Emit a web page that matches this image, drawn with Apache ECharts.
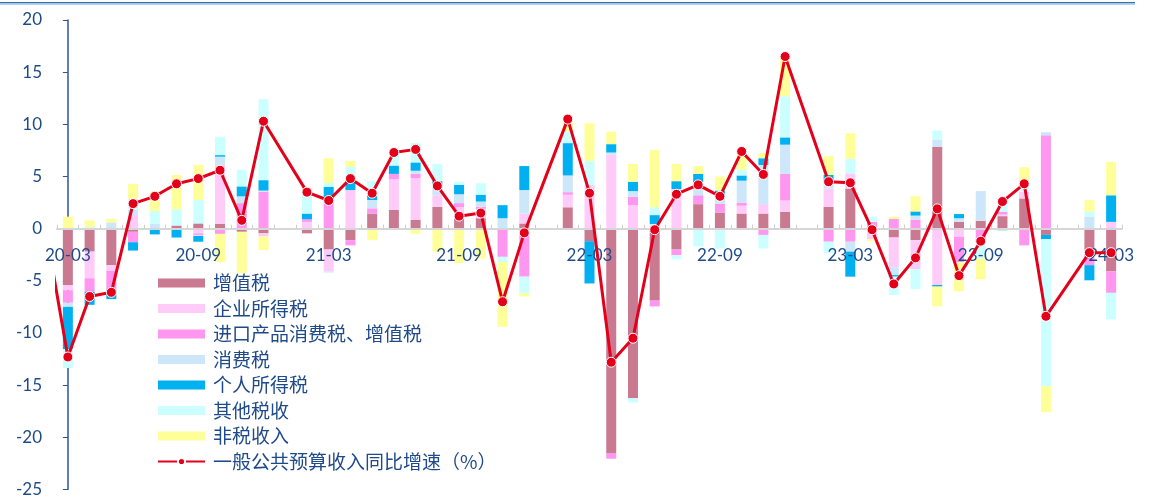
<!DOCTYPE html>
<html>
<head>
<meta charset="utf-8">
<script src="https://cdn.jsdelivr.net/npm/echarts@6/dist/echarts.min.js"></script>
<style>
  html, body { margin: 0; padding: 0; background: #ffffff; }
  #chart { width: 1150px; height: 497px; }
</style>
</head>
<body>
<div id="chart"></div>
<script>
// Monthly periods; '20-02' only feeds the first line segment (outside the plot)
const months = [
  '20-02',
  '20-03','20-04','20-05','20-06','20-07','20-08','20-09','20-10','20-11','20-12',
  '21-01','21-02','21-03','21-04','21-05','21-06','21-07','21-08','21-09','21-10','21-11','21-12',
  '22-01','22-02','22-03','22-04','22-05','22-06','22-07','22-08','22-09','22-10','22-11','22-12',
  '23-01','23-02','23-03','23-04','23-05','23-06','23-07','23-08','23-09','23-10','23-11','23-12',
  '24-01','24-02','24-03'
];

// Contributions to revenue growth, percentage points (January is reported with February)
const vat = [null,
  -5.4,-2.2,-3.5,-0.3,0,0.3,0.5,0.45,-0.3,-0.45,
  null,-0.45,-2.0,-1.1,1.45,1.8,0.85,2.1,1.0,1.0,0,0.5,
  null,2.05,-1.2,-21.5,-16.25,-6.9,-2.0,2.35,1.55,1.45,1.45,1.6,
  null,2.1,3.85,0,-0.85,-1.1,7.85,0.65,0.75,1.2,2.9,-0.6,
  null,-2.0,-4.1];
const corpIncome = [null,
  -0.5,-2.55,-0.55,1.3,0,0,-0.45,5.65,0,-0.3,
  null,0.65,-2.1,3.7,0,2.95,4.0,1.1,1.05,0.9,0,0.95,
  null,1.2,4.2,7.1,2.25,0,3.4,0,0,0.75,0.9,1.1,
  null,1.75,1.45,-1.0,-2.85,-2.8,-5.4,-0.8,0,0.15,0.65,0,
  null,0,0.65];
const importTax = [null,
  -1.2,-1.3,-1.8,-1.0,0,0,-0.15,-0.5,2.45,3.55,
  null,0.25,3.05,-0.5,0.5,0.5,0.4,0,0.4,0.2,-2.7,-4.6,
  null,0.25,0,-0.55,0.8,-0.55,-0.55,0.85,0.85,0.3,-0.6,2.55,
  null,-1.25,-1.25,0.65,0.95,0.85,0,-2.4,-1.1,0.25,-1.6,8.95,
  null,-1.5,-2.05];
const consumption = [null,
  -0.4,0,0.6,0.5,0.5,-0.1,-0.1,0.8,0.65,0.1,
  null,0,-0.1,0,0.8,0,0.3,0.95,0.85,0.5,1.0,2.25,
  null,1.6,0,0.2,0.55,0.45,0.4,1.25,0.85,2.1,3.75,2.8,
  null,0.55,-0.95,0,-0.75,0.4,0.7,0.35,2.85,0,0,0.3,
  null,1.15,0];
const personalIncome = [null,
  -4.05,-1.25,-0.9,-0.8,-0.55,-0.75,-0.55,0.15,0.95,1.0,
  null,0.55,0.95,0.8,0.6,0.8,0.8,0.4,0.9,0.65,1.25,2.3,
  null,3.1,-4.05,0.8,0.9,0.85,0.75,0.8,0.4,0.5,0.65,0.7,
  null,0.75,-2.4,0,-0.15,0.4,-0.15,0.4,0,-0.15,0,-0.4,
  null,-1.45,2.55];
const otherTax = [null,
  -1.8,0.15,0,1.05,1.2,1.55,2.25,1.75,1.6,7.75,
  null,2.1,0.4,1.45,1.2,1.2,1.85,1.65,0.3,1.1,-0.5,-1.6,
  null,1.1,2.3,0,-0.4,0.75,-0.4,-1.7,-1.9,0.55,-1.3,3.95,
  null,-1.1,1.4,0.5,-1.75,-1.9,0.85,0,-1.75,1.0,0.95,-14.1,
  null,0.5,-2.55];
const nonTax = [null,
  1.15,0.65,0.35,1.45,1.85,3.3,3.35,-2.7,-3.95,-1.3,
  null,0.3,2.35,0.55,-1.1,0,-0.5,-2.2,-3.3,-2.85,-6.2,-0.3,
  null,1.1,3.6,1.2,1.7,5.5,1.65,0.75,1.35,1.75,0.5,3.75,
  null,1.8,2.45,-0.2,0.2,1.45,-1.9,-2.8,-2.0,0,1.4,-2.5,
  null,1.1,3.2];

// Year-on-year growth of general public budget revenue, %
const growth = [-0.3,
  -12.3,-6.5,-6.1,2.4,3.1,4.3,4.8,5.6,0.8,10.3,
  null,3.5,2.7,4.8,3.4,7.3,7.6,4.1,1.2,1.5,-7.0,-0.4,
  null,10.5,3.4,-12.8,-10.5,-0.1,3.3,4.2,3.1,7.4,5.2,16.5,
  null,4.5,4.4,-0.1,-5.3,-2.8,1.9,-4.5,-1.2,2.6,4.3,-8.4,
  null,-2.3,-2.3];

// Vertical axis range and step
const yMin = -25, yMax = 20, yStep = 5;

const barSeries = [
  { name: '增值税', data: vat, color: '#C97A91' },
  { name: '企业所得税', data: corpIncome, color: '#FFCCFA' },
  { name: '进口产品消费税、增值税', data: importTax, color: '#FF96EF' },
  { name: '消费税', data: consumption, color: '#CCE7F9' },
  { name: '个人所得税', data: personalIncome, color: '#00B0F0' },
  { name: '其他税收', data: otherTax, color: '#CCFFFF' },
  { name: '非税收入', data: nonTax, color: '#FFFF99' }
];
const lineName = '一般公共预算收入同比增速（%）';

const textBlue = '#1F4A8A';
const axisFont = 'Lato, "Liberation Sans", sans-serif';
const cjkFont = '"Noto Sans CJK SC", sans-serif';

const gridTop = 20, gridBottom = 7.5, chartHeight = 497;
const plotHeight = chartHeight - gridTop - gridBottom;
// shift the category axis from the bottom edge up to the zero line
const zeroOffset = -plotHeight * (0 - yMin) / (yMax - yMin);

const plotMonths = months.slice(1);
const linePoints = [];
growth.forEach((v, i) => { if (v !== null) linePoints.push([i - 1, v]); });

const chart = echarts.init(document.getElementById('chart'), null, { renderer: 'canvas' });

const series = barSeries.map(s => ({
  name: s.name,
  type: 'bar',
  stack: 'total',
  xAxisIndex: 0,
  barWidth: 10,
  data: s.data.slice(1),
  itemStyle: { color: s.color },
  z: 2
}));
series.push({
  name: lineName,
  type: 'line',
  xAxisIndex: 1,
  data: linePoints,
  clip: true,
  symbol: 'circle',
  symbolSize: 10,
  lineStyle: { color: '#E3001B', width: 3 },
  itemStyle: { color: '#E3001B', borderColor: '#ffffff', borderWidth: 1 },
  z: 5
});

chart.setOption({
  animation: false,
  backgroundColor: '#ffffff',
  grid: { left: 57, right: 28, top: gridTop, bottom: gridBottom, containLabel: false, outerBoundsMode: 'none' },
  graphic: [
    { type: 'rect', shape: { x: 0, y: 2, width: 1135, height: 1.6 }, style: { fill: '#2E75B6' } },
    { type: 'rect', shape: { x: 0, y: 3.6, width: 1135, height: 1.4 }, style: { fill: '#B4D2EE' } }
  ],
  legend: {
    orient: 'vertical',
    left: 157,
    top: 273,
    padding: 0,
    itemWidth: 47,
    itemHeight: 9,
    itemGap: 5.5,
    textStyle: { color: textBlue, fontSize: 19, fontFamily: cjkFont, lineHeight: 20, padding: [0, 0, 0, 3] },
    data: barSeries.map(s => ({ name: s.name, icon: 'rect' })).concat([{ name: lineName }])
  },
  xAxis: [
    {
      type: 'category',
      data: plotMonths,
      boundaryGap: true,
      position: 'bottom',
      offset: zeroOffset,
      z: 4,
      axisLine: { onZero: false, lineStyle: { color: '#D6D6D6', width: 2 } },
      axisTick: { show: true, inside: true, length: 4, interval: 0, lineStyle: { color: '#CFCFCF', width: 1 } },
      axisLabel: { interval: 5, margin: 18, color: textBlue, fontSize: 17, fontFamily: axisFont },
      splitLine: { show: false }
    },
    {
      type: 'value',
      min: -0.5,
      max: 48.5,
      show: false
    }
  ],
  yAxis: {
    type: 'value',
    min: yMin,
    max: yMax,
    interval: yStep,
    axisLine: { show: true, lineStyle: { color: '#2F5597', width: 1.5 } },
    axisTick: { show: true, inside: false, length: 5, lineStyle: { color: '#2F5597' } },
    axisLabel: { margin: 15, color: textBlue, fontSize: 17, fontFamily: axisFont },
    splitLine: { show: false }
  },
  series: series
});
</script>
</body>
</html>
